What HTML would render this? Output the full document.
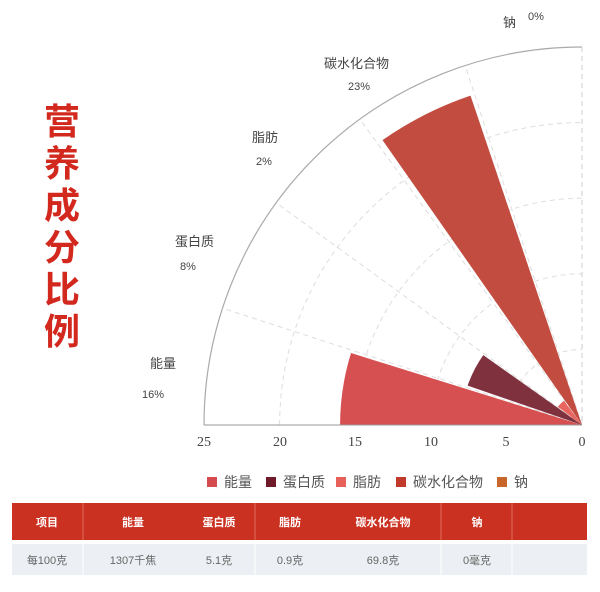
<!DOCTYPE html>
<html><head><meta charset="utf-8"><style>
body{margin:0;background:#fff;width:600px;height:592px;overflow:hidden;font-family:"Liberation Sans","Noto Sans CJK SC",sans-serif}
</style></head><body>
<svg width="600" height="592" xmlns="http://www.w3.org/2000/svg" style="position:absolute;left:0;top:0" font-family="Liberation Sans, Noto Sans CJK SC, sans-serif">
<g id="grid" stroke="#ddd" stroke-dasharray="5,4" fill="none" stroke-width="1"></g>
<path d="M204,425 A378,378 0 0 1 582,47" stroke="#aaa" fill="none" stroke-width="1.2"/>
<line x1="582" y1="47" x2="582" y2="425" stroke="#ccc" stroke-dasharray="5,4"/>
<g id="bars"></g>
<line x1="204" y1="425" x2="582" y2="425" stroke="#999"/>
<g fill="#444" font-size="14" text-anchor="middle" font-family="Liberation Serif, serif">
<text x="204" y="446">25</text><text x="280" y="446">20</text><text x="355" y="446">15</text><text x="431" y="446">10</text><text x="506" y="446">5</text><text x="582" y="446">0</text>
</g>
<g fill="#444" font-size="13">
<text x="150" y="368">能量</text><text x="142" y="398" font-size="11">16%</text>
<text x="175" y="246">蛋白质</text><text x="180" y="270" font-size="11">8%</text>
<text x="252" y="142">脂肪</text><text x="256" y="165" font-size="11">2%</text>
<text x="324" y="68">碳水化合物</text><text x="348" y="90" font-size="11">23%</text>
<text x="503" y="27">钠</text><text x="528" y="20" font-size="11">0%</text>
</g>
<g font-size="36" font-weight="bold" fill="#d2281e" text-anchor="middle">
<text x="62" y="134">营</text><text x="62" y="176">养</text><text x="62" y="218">成</text><text x="62" y="260">分</text><text x="62" y="302">比</text><text x="62" y="344">例</text>
</g>
<g font-size="14" fill="#555">
<rect x="207" y="477" width="10" height="10" fill="#d54a4c"/><text x="224" y="487">能量</text>
<rect x="266" y="477" width="10" height="10" fill="#6e1a28"/><text x="283" y="487">蛋白质</text>
<rect x="336" y="477" width="10" height="10" fill="#e8605a"/><text x="353" y="487">脂肪</text>
<rect x="396" y="477" width="10" height="10" fill="#c0392b"/><text x="413" y="487">碳水化合物</text>
<rect x="497" y="477" width="10" height="10" fill="#c8662a"/><text x="514" y="487">钠</text>
</g>
<rect x="12" y="503" width="575" height="37" fill="#cb3121"/>
<g stroke="#e06a5c" stroke-width="1"><line x1="83" y1="503" x2="83" y2="540"/><line x1="255" y1="503" x2="255" y2="540"/><line x1="441" y1="503" x2="441" y2="540"/><line x1="512" y1="503" x2="512" y2="540"/></g>
<rect x="12" y="544" width="575" height="31" fill="#eceff3"/>
<g stroke="#fff"><line x1="83" y1="544" x2="83" y2="575"/><line x1="255" y1="544" x2="255" y2="575"/><line x1="441" y1="544" x2="441" y2="575"/><line x1="512" y1="544" x2="512" y2="575"/></g>
<g font-size="11" font-weight="bold" fill="#fff" text-anchor="middle">
<text x="47" y="526">项目</text><text x="133" y="526">能量</text><text x="219" y="526">蛋白质</text><text x="290" y="526">脂肪</text><text x="383" y="526">碳水化合物</text><text x="477" y="526">钠</text>
</g>
<g font-size="11" fill="#666" text-anchor="middle">
<text x="47" y="564">每100克</text><text x="133" y="564">1307千焦</text><text x="219" y="564">5.1克</text><text x="290" y="564">0.9克</text><text x="383" y="564">69.8克</text><text x="477" y="564">0毫克</text>
</g>
</svg>
<script>
const cx=582,cy=425,k=15.12;
function P(a,r){a=a*Math.PI/180;return [cx-r*Math.cos(a),cy-r*Math.sin(a)];}
let g=document.getElementById('grid'),s='';
for(let v=5;v<25;v+=5){let r=v*k,p=P(0,r),q=P(90,r);s+=`<path d="M${p} A${r},${r} 0 0 1 ${q}"/>`;}
for(let a=18;a<90;a+=18){let p=P(a,378);s+=`<line x1="${cx}" y1="${cy}" x2="${p[0]}" y2="${p[1]}"/>`;}
g.innerHTML=s;
const d=[[16,'#d54a4c'],[8,'#7b2a38'],[2,'#e8605a'],[23,'#c0463a'],[0,'#c8662a']];
let b='';
d.forEach((e,i)=>{if(!e[0])return;let r=e[0]*k,a0=i*18+(i?1:0),a1=i*18+17.3;let p=P(a0,r),q=P(a1,r);
b+=`<path d="M${cx},${cy} L${p} A${r},${r} 0 0 1 ${q} Z" fill="${e[1]}" opacity="0.97"/>`;});
document.getElementById('bars').innerHTML=b;
</script>
</body></html>
